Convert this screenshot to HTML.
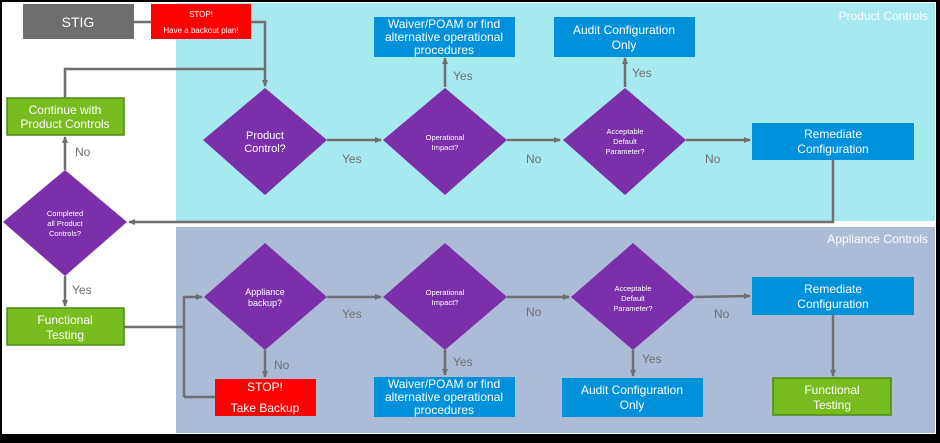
<!DOCTYPE html>
<html><head><meta charset="utf-8"><style>
body{margin:0;width:940px;height:438px;overflow:hidden;background:#000;font-family:"Liberation Sans",sans-serif}
</style></head><body>
<svg width="940" height="438" viewBox="0 0 940 438" xmlns="http://www.w3.org/2000/svg" font-family="Liberation Sans, sans-serif">
<defs><marker id="a" markerWidth="8" markerHeight="8" refX="6" refY="4" orient="auto" markerUnits="userSpaceOnUse"><path d="M0,1 L7,4 L0,7 z" fill="#6f6f6f"/></marker></defs>
<rect x="2" y="2" width="934" height="432" fill="#fff"/>
<rect x="176" y="3" width="759" height="218" fill="#a6e9ef"/>
<rect x="176" y="227" width="759" height="206" fill="#adbcd6"/>
<text x="928" y="20" text-anchor="end" fill="#fff" font-size="12">Product Controls</text>
<text x="928" y="243" text-anchor="end" fill="#fff" font-size="12">Appliance Controls</text>
<g stroke="#6f6f6f" stroke-width="2.5" fill="none">
<path d="M134,22 H151"/>
<path d="M251,22 H265 V86" marker-end="url(#a)"/>
<path d="M65,98 V69 H265"/>
<path d="M445,87 V58" marker-end="url(#a)"/>
<path d="M625,87 V58" marker-end="url(#a)"/>
<path d="M327,140 H381" marker-end="url(#a)"/>
<path d="M507,140 H560" marker-end="url(#a)"/>
<path d="M686,140 H750" marker-end="url(#a)"/>
<path d="M833,160 V222 H129" marker-end="url(#a)"/>
<path d="M65,170 V137" marker-end="url(#a)"/>
<path d="M65,276 V306" marker-end="url(#a)"/>
<path d="M124,327 H184"/>
<path d="M184,397 V297 H202" marker-end="url(#a)"/>
<path d="M215,397 H184"/>
<path d="M265,350 V377" marker-end="url(#a)"/>
<path d="M327,297 H381" marker-end="url(#a)"/>
<path d="M445,350 V375" marker-end="url(#a)"/>
<path d="M507,297 H569" marker-end="url(#a)"/>
<path d="M633,350 V376" marker-end="url(#a)"/>
<path d="M695,297 L750,296" marker-end="url(#a)"/>
<path d="M833,315 V376" marker-end="url(#a)"/>
</g>
<g fill="#7b30aa">
<path d="M265,88 L327,140 L265,195 L203,140z"/>
<path d="M445,88 L507,140 L445,195 L383,140z"/>
<path d="M625,88 L686,140 L625,195 L563,140z"/>
<path d="M65,170 L127,222 L65,276 L3,222z"/>
<path d="M265,243 L327,297 L265,350 L204,297z"/>
<path d="M445,243 L507,297 L445,350 L383,297z"/>
<path d="M633,243 L695,297 L633,350 L571,297z"/>
</g>
<rect x="23" y="4" width="111" height="35" fill="#6d6e70"/>
<text x="78" y="27" text-anchor="middle" fill="#fff" font-size="14">STIG</text>
<rect x="151" y="4" width="100" height="35" fill="#f00"/>
<text x="201" y="17" text-anchor="middle" fill="#fff" font-size="8">STOP!</text>
<text x="201" y="33" text-anchor="middle" fill="#fff" font-size="8">Have a backout plan!</text>
<g fill="#0091da">
<rect x="374" y="17" width="141" height="40"/><rect x="554" y="17" width="141" height="40"/>
<rect x="752" y="123" width="162" height="37"/><rect x="752" y="277" width="162" height="38"/>
<rect x="374" y="377" width="141" height="40"/><rect x="562" y="378" width="141" height="39"/>
</g>
<rect x="215" y="379" width="101" height="37" fill="#f00"/>
<g fill="#78bd1f" stroke="#4d8a14" stroke-width="1.5">
<rect x="7" y="98" width="117" height="37"/><rect x="7" y="308" width="117" height="37"/><rect x="773" y="378" width="118" height="37"/>
</g>
<g fill="#fff" font-size="12" text-anchor="middle">
<text x="444" y="28">Waiver/POAM or find</text><text x="444" y="41">alternative operational</text><text x="444" y="54">procedures</text>
<text x="624" y="34">Audit Configuration</text><text x="624" y="49">Only</text>
<text x="833" y="138">Remediate</text><text x="833" y="153">Configuration</text>
<text x="833" y="293">Remediate</text><text x="833" y="308">Configuration</text>
<text x="444" y="388">Waiver/POAM or find</text><text x="444" y="401">alternative operational</text><text x="444" y="414">procedures</text>
<text x="632" y="394">Audit Configuration</text><text x="632" y="409">Only</text>
<text x="265" y="391">STOP!</text><text x="265" y="412">Take Backup</text>
<text x="65" y="114">Continue with</text><text x="65" y="128">Product Controls</text>
<text x="65" y="324">Functional</text><text x="65" y="339">Testing</text>
<text x="832" y="394">Functional</text><text x="832" y="409">Testing</text>
<text x="265" y="139" font-size="11">Product</text><text x="265" y="152" font-size="11">Control?</text>
<text x="265" y="295" font-size="9">Appliance</text><text x="265" y="306" font-size="9">backup?</text>
</g>
<g fill="#fff" font-size="7.5" text-anchor="middle">
<text x="445" y="140">Operational</text><text x="445" y="150">Impact?</text>
<text x="445" y="295">Operational</text><text x="445" y="305">Impact?</text>
<text x="625" y="134">Acceptable</text><text x="625" y="144">Default</text><text x="625" y="154">Parameter?</text>
<text x="633" y="291">Acceptable</text><text x="633" y="301">Default</text><text x="633" y="311">Parameter?</text>
<text x="65" y="216">Completed</text><text x="65" y="226">all Product</text><text x="65" y="236">Controls?</text>
</g>
<g fill="#6f6f6f" font-size="12">
<text x="342" y="163">Yes</text><text x="453" y="80">Yes</text><text x="526" y="163">No</text><text x="632" y="77">Yes</text><text x="705" y="163">No</text>
<text x="75" y="156">No</text><text x="72" y="294">Yes</text><text x="274" y="369">No</text>
<text x="342" y="318">Yes</text><text x="526" y="316">No</text><text x="453" y="366">Yes</text><text x="642" y="363">Yes</text><text x="714" y="318">No</text>
</g>
</svg>
</body></html>
